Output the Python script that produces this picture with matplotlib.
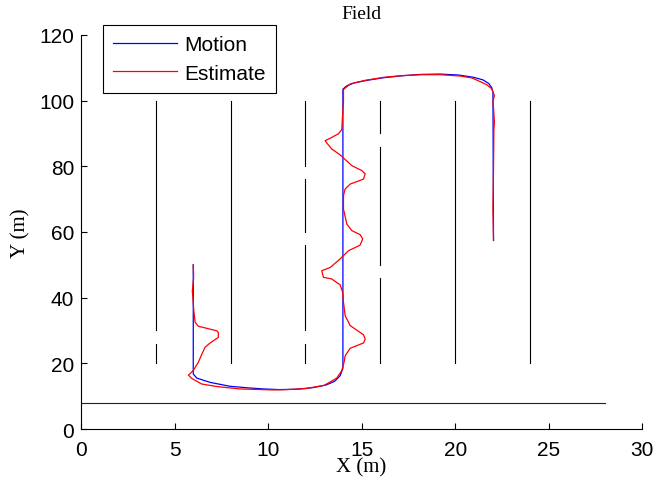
import matplotlib
matplotlib.use("Agg")
import matplotlib.pyplot as plt
import numpy as np

# crop rows in the field: x position and the (start, end) y of each drawn segment
row_x = [4, 8, 12, 16, 20, 24]
row_segments = [
    [(20, 26), (30, 100)],
    [(20, 100)],
    [(20, 26), (30, 56), (60, 76), (80, 100)],
    [(20, 46), (50, 86), (90, 100)],
    [(20, 100)],
    [(20, 100)],
]
headland_x = [0, 28]
headland_y = [8, 8]

# true vehicle motion
motion_x = [6.0, 6.0, 6.19, 6.9, 7.97, 9.0, 9.75, 10.6, 11.5, 12.4, 13.1, 13.55,
            13.85, 14.0, 14.0, 14.2, 14.6, 15.3, 16.2, 17.2, 18.2, 19.2, 20.2,
            21.0, 21.5, 21.8, 21.95, 22.02, 22.05]
motion_y = [50.0, 16.75, 15.5, 14.2, 13.0, 12.5, 12.2, 12.0, 12.1, 12.6, 13.4, 14.5,
            16.2, 18.5, 103.5, 104.5, 105.4, 106.2, 107.0, 107.6, 108.0, 108.1, 107.8,
            107.1, 106.3, 105.2, 104.0, 102.5, 57.5]

# estimated position
estimate_x = [6.0, 6.02, 5.95, 5.98, 6.03, 6.1, 6.27, 7.26, 7.34, 7.34, 6.9, 6.63,
              6.42, 6.27, 6.0, 5.74, 5.92, 6.45, 7.3, 8.5, 10.28, 11.0, 12.0, 13.0,
              13.67, 13.94, 14.06, 14.12, 14.39, 15.1, 15.19, 15.1, 14.39, 14.12,
              14.03, 13.99, 13.85, 13.4, 12.96, 12.87, 13.32, 13.85, 14.3, 14.92,
              15.06, 14.92, 14.48, 14.21, 14.03, 14.03, 14.12, 14.39, 15.1, 15.19,
              15.01, 14.48, 13.85, 13.4, 13.14, 13.05, 13.4, 13.76, 13.94, 13.97,
              14.03, 14.03, 14.39, 15.2, 16.17, 17.1, 18.13, 19.2, 20.27, 20.9,
              21.34, 21.7, 21.96, 22.1, 22.02, 22.06, 22.1, 22.07, 22.05, 22.02,
              22.05]
estimate_y = [50.0, 46.0, 42.0, 40.0, 36.0, 32.5, 31.3, 29.9, 29.4, 27.9, 26.2, 24.9,
              22.3, 20.3, 17.8, 16.4, 15.4, 13.7, 12.9, 12.2, 11.9, 12.0, 12.3, 13.3,
              15.5, 17.8, 20.3, 22.3, 24.6, 26.2, 27.4, 28.7, 31.5, 34.5,
              38.6, 41.6, 43.9, 45.7, 46.2, 48.2, 49.2, 51.8, 54.3, 56.0,
              57.9, 59.2, 60.4, 62.4, 67.0, 71.1, 73.1, 74.6, 76.1, 77.7,
              78.7, 80.2, 83.5, 85.3, 87.1, 87.8, 88.8, 89.9, 91.2, 94.4,
              99.5, 103.4, 105.1, 106.2, 107.1, 107.6, 107.9, 107.9, 107.5, 106.9,
              105.8, 104.8, 103.6, 101.5, 100.0, 97.0, 93.4, 90.9, 79.2, 67.0,
              57.4]

fig = plt.figure(figsize=(6.56, 4.85), dpi=100)
ax = fig.add_axes([0.1235, 0.1134, 0.8555, 0.8124])

for x, segs in zip(row_x, row_segments):
    for y0, y1 in segs:
        ax.plot([x, x], [y0, y1], color='black', lw=0.8)
ax.plot(headland_x, headland_y, color='#222222', lw=0.8)

ax.plot(motion_x, motion_y, color='blue', lw=0.9, label='Motion')
ax.plot(estimate_x, estimate_y, color='red', lw=0.9, label='Estimate')

ax.set_xlim(0, 30)
ax.set_ylim(0, 120)
ax.set_xticks(np.arange(0, 31, 5))
ax.set_yticks(np.arange(0, 121, 20))
ax.spines['top'].set_visible(False)
ax.spines['right'].set_visible(False)
ax.spines['left'].set_linewidth(0.8)
ax.spines['bottom'].set_linewidth(0.8)
ax.tick_params(direction='in', length=4, width=0.8, labelsize=15)
ax.tick_params(axis='x', pad=8)
ax.tick_params(axis='y', pad=5)
for lab in ax.get_xticklabels() + ax.get_yticklabels():
    lab.set_family('Liberation Sans')

ax.set_title('Field', family='Liberation Serif', fontsize=14, pad=12)
ax.set_xlabel('X (m)', family='Liberation Serif', fontsize=15, labelpad=-1)
ax.set_ylabel('Y (m)', family='Liberation Serif', fontsize=15, labelpad=6)

leg = ax.legend(loc='upper left', bbox_to_anchor=(0.039, 1.025), borderaxespad=0,
                prop={'family': 'Liberation Sans', 'size': 15}, handlelength=3.1,
                handletextpad=0.32, borderpad=0.48, labelspacing=0.45, fancybox=False,
                framealpha=1)
leg.get_frame().set_edgecolor('black')
leg.get_frame().set_linewidth(0.8)

fig.savefig('out.png', dpi=100)
